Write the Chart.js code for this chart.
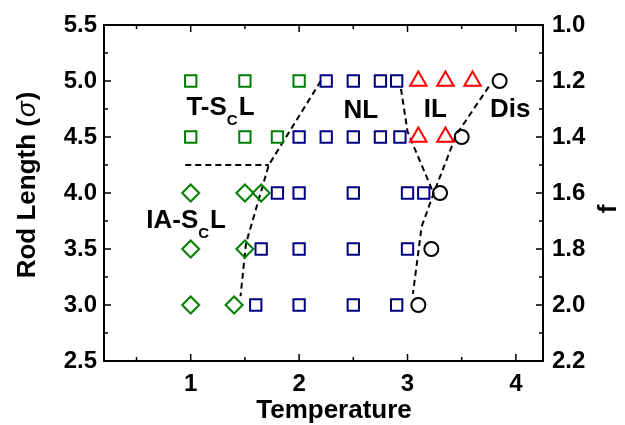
<!DOCTYPE html>
<html>
<head>
<meta charset="utf-8">
<script src="https://cdn.jsdelivr.net/npm/chart.js@4"></script>
<style>
  body { margin: 0; background: #fff; }
  canvas { display: block; }
</style>
</head>
<body>
<canvas id="phaseChart" width="625" height="425"></canvas>
<script>
// Phase points (temperature, rod length)
const tsclT = [1.0, 1.5, 2.0, 1.0, 1.5, 1.8];
const tsclL = [5.0, 5.0, 5.0, 4.5, 4.5, 4.5];

const iasclT = [1.0, 1.5, 1.65, 1.0, 1.5, 1.0, 1.4];
const iasclL = [4.0, 4.0, 4.0, 3.5, 3.5, 3.0, 3.0];

const nlT = [2.25, 2.5, 2.75, 2.9, 2.0, 2.25, 2.5, 2.75, 2.93, 1.8, 2.0, 2.5, 3.0, 3.15, 1.65, 2.0, 2.5, 3.0, 1.6, 2.0, 2.5, 2.9];
const nlL = [5.0, 5.0, 5.0, 5.0, 4.5, 4.5, 4.5, 4.5, 4.5, 4.0, 4.0, 4.0, 4.0, 4.0, 3.5, 3.5, 3.5, 3.5, 3.0, 3.0, 3.0, 3.0];

const ilT = [3.1, 3.35, 3.6, 3.1, 3.35];
const ilL = [5.0, 5.0, 5.0, 4.5, 4.5];

const disT = [3.85, 3.5, 3.3, 3.22, 3.1];
const disL = [5.0, 4.5, 4.0, 3.5, 3.0];

// Dashed phase boundaries
const bound1T = [2.2, 1.72, 1.51, 1.46];
const bound1L = [5.0, 4.25, 3.55, 3.08];
const bound2T = [0.95, 1.72];
const bound2L = [4.25, 4.25];
const bound3T = [2.94, 3.0, 3.23];
const bound3L = [4.93, 4.55, 4.02];
const bound4T = [3.75, 3.45, 3.25, 3.13, 3.05];
const bound4L = [4.95, 4.52, 4.02, 3.7, 3.1];

// Tick values
const xMajor = [1, 2, 3, 4];
const xMinor = [0.5, 1.5, 2.5, 3.5];
const yMajor = [2.5, 3.0, 3.5, 4.0, 4.5, 5.0, 5.5];
const yMinor = [2.75, 3.25, 3.75, 4.25, 4.75, 5.25];
const fMajor = [1.0, 1.2, 1.4, 1.6, 1.8, 2.0, 2.2];
const fMinor = [1.1, 1.3, 1.5, 1.7, 1.9, 2.1];

// Region labels: [main, subscript, rest, T, L]
const regionLabels = [
    ['T-S', 'C', 'L', 0.96, 4.70],
    ['NL', '', '', 2.41, 4.67],
    ['IL', '', '', 3.15, 4.68],
    ['Dis', '', '', 3.76, 4.68],
    ['IA-S', 'C', 'L', 0.59, 3.69]
];

const FONT = "'Liberation Sans', Arial, sans-serif";

function zip(xs, ys) {
    return xs.map((x, i) => ({ x: x, y: ys[i] }));
}

function markers(label, xs, ys, style, color, radius) {
    return {
        label: label,
        data: zip(xs, ys),
        pointStyle: style,
        pointRadius: radius,
        pointBorderColor: color,
        pointBackgroundColor: 'transparent',
        pointBorderWidth: 2,
        showLine: false
    };
}

function boundary(xs, ys) {
    return {
        data: zip(xs, ys),
        showLine: true,
        borderColor: '#000',
        borderWidth: 2,
        borderDash: [6, 4],
        pointRadius: 0,
        tension: 0,
        fill: false
    };
}

// Frame, inward ticks, region labels and axis titles
const overlayPlugin = {
    id: 'overlay',
    afterDraw(chart) {
        const ctx = chart.ctx;
        const area = chart.chartArea;
        const xs = chart.scales.x, ys = chart.scales.y, fs = chart.scales.y2;

        ctx.save();
        ctx.strokeStyle = '#000';
        ctx.lineWidth = 2;
        ctx.strokeRect(area.left, area.top, area.right - area.left, area.bottom - area.top);

        ctx.lineWidth = 1.5;
        ctx.beginPath();
        const xTick = (v, len) => {
            const px = xs.getPixelForValue(v);
            ctx.moveTo(px, area.bottom); ctx.lineTo(px, area.bottom - len);
            ctx.moveTo(px, area.top); ctx.lineTo(px, area.top + len);
        };
        xMajor.forEach(v => xTick(v, 7));
        xMinor.forEach(v => xTick(v, 4));
        const yTick = (v, len) => {
            const py = ys.getPixelForValue(v);
            ctx.moveTo(area.left, py); ctx.lineTo(area.left + len, py);
        };
        yMajor.forEach(v => yTick(v, 7));
        yMinor.forEach(v => yTick(v, 4));
        const fTick = (v, len) => {
            const py = fs.getPixelForValue(v);
            ctx.moveTo(area.right, py); ctx.lineTo(area.right - len, py);
        };
        fMajor.forEach(v => fTick(v, 7));
        fMinor.forEach(v => fTick(v, 4));
        ctx.stroke();

        // Region labels
        ctx.fillStyle = '#000';
        ctx.textBaseline = 'alphabetic';
        ctx.textAlign = 'left';
        regionLabels.forEach(([main, sub, rest, t, l]) => {
            let px = xs.getPixelForValue(t);
            const py = ys.getPixelForValue(l);
            ctx.font = 'bold 26px ' + FONT;
            ctx.fillText(main, px, py);
            px += ctx.measureText(main).width;
            if (sub) {
                ctx.font = 'bold 15px ' + FONT;
                ctx.fillText(sub, px, py + 10);
                px += ctx.measureText(sub).width + 1;
                ctx.font = 'bold 26px ' + FONT;
                ctx.fillText(rest, px, py);
            }
        });

        // Axis titles
        ctx.font = 'bold 26px ' + FONT;
        ctx.textAlign = 'center';
        ctx.textBaseline = 'middle';
        ctx.fillText('Temperature', 334, 411);

        ctx.save();
        ctx.translate(609, 209);
        ctx.rotate(-Math.PI / 2);
        ctx.fillText('f', 0, 0);
        ctx.restore();

        ctx.save();
        ctx.translate(28, 185);
        ctx.rotate(-Math.PI / 2);
        const partA = 'Rod Length (', partB = '\u03C3', partC = ')';
        ctx.font = 'bold 26px ' + FONT;
        const wA = ctx.measureText(partA).width, wC = ctx.measureText(partC).width;
        ctx.font = 'italic 26px ' + FONT;
        const wB = ctx.measureText(partB).width + 2;
        let sx = -(wA + wB + wC) / 2;
        ctx.textAlign = 'left';
        ctx.font = 'bold 26px ' + FONT;
        ctx.fillText(partA, sx, 0);
        ctx.font = 'italic 26px ' + FONT;
        ctx.fillText(partB, sx + wA + 1, 0);
        ctx.font = 'bold 26px ' + FONT;
        ctx.fillText(partC, sx + wA + wB, 0);
        ctx.restore();

        ctx.restore();
    }
};

const tickFont = { family: FONT, size: 24, weight: 'bold' };

new Chart(document.getElementById('phaseChart'), {
    type: 'scatter',
    data: {
        datasets: [
            markers('T-ScL', tsclT, tsclL, 'rect', '#008000', 8),
            markers('IA-ScL', iasclT, iasclL, 'rectRot', '#008000', 8.5),
            markers('NL', nlT, nlL, 'rect', '#000080', 8),
            markers('IL', ilT, ilL, 'triangle', '#ff0000', 9.5),
            markers('Dis', disT, disL, 'circle', '#000000', 7),
            boundary(bound1T, bound1L),
            boundary(bound2T, bound2L),
            boundary(bound3T, bound3L),
            boundary(bound4T, bound4L)
        ]
    },
    options: {
        responsive: false,
        animation: false,
        layout: { padding: { top: 25, left: 0, right: 0, bottom: 0 } },
        plugins: {
            legend: { display: false },
            tooltip: { enabled: false }
        },
        scales: {
            x: {
                type: 'linear',
                position: 'bottom',
                min: 0.2,
                max: 4.25,
                afterBuildTicks: s => { s.ticks = xMajor.map(v => ({ value: v })); },
                afterFit: s => { s.height = 64; },
                grid: { display: false, drawTicks: false },
                border: { display: false },
                ticks: { color: '#000', font: tickFont, padding: 9, callback: v => String(v) }
            },
            y: {
                type: 'linear',
                position: 'left',
                min: 2.5,
                max: 5.5,
                afterBuildTicks: s => { s.ticks = yMajor.map(v => ({ value: v })); },
                afterFit: s => { s.width = 104; },
                grid: { display: false, drawTicks: false },
                border: { display: false },
                ticks: { color: '#000', font: tickFont, padding: 7, callback: v => Number(v).toFixed(1) }
            },
            y2: {
                type: 'linear',
                position: 'right',
                reverse: true,
                min: 1.0,
                max: 2.2,
                afterBuildTicks: s => { s.ticks = fMajor.map(v => ({ value: v })); },
                afterFit: s => { s.width = 82; },
                grid: { display: false, drawTicks: false },
                border: { display: false },
                ticks: { color: '#000', font: tickFont, padding: 9, callback: v => Number(v).toFixed(1) }
            }
        }
    },
    plugins: [overlayPlugin]
});
</script>
</body>
</html>
